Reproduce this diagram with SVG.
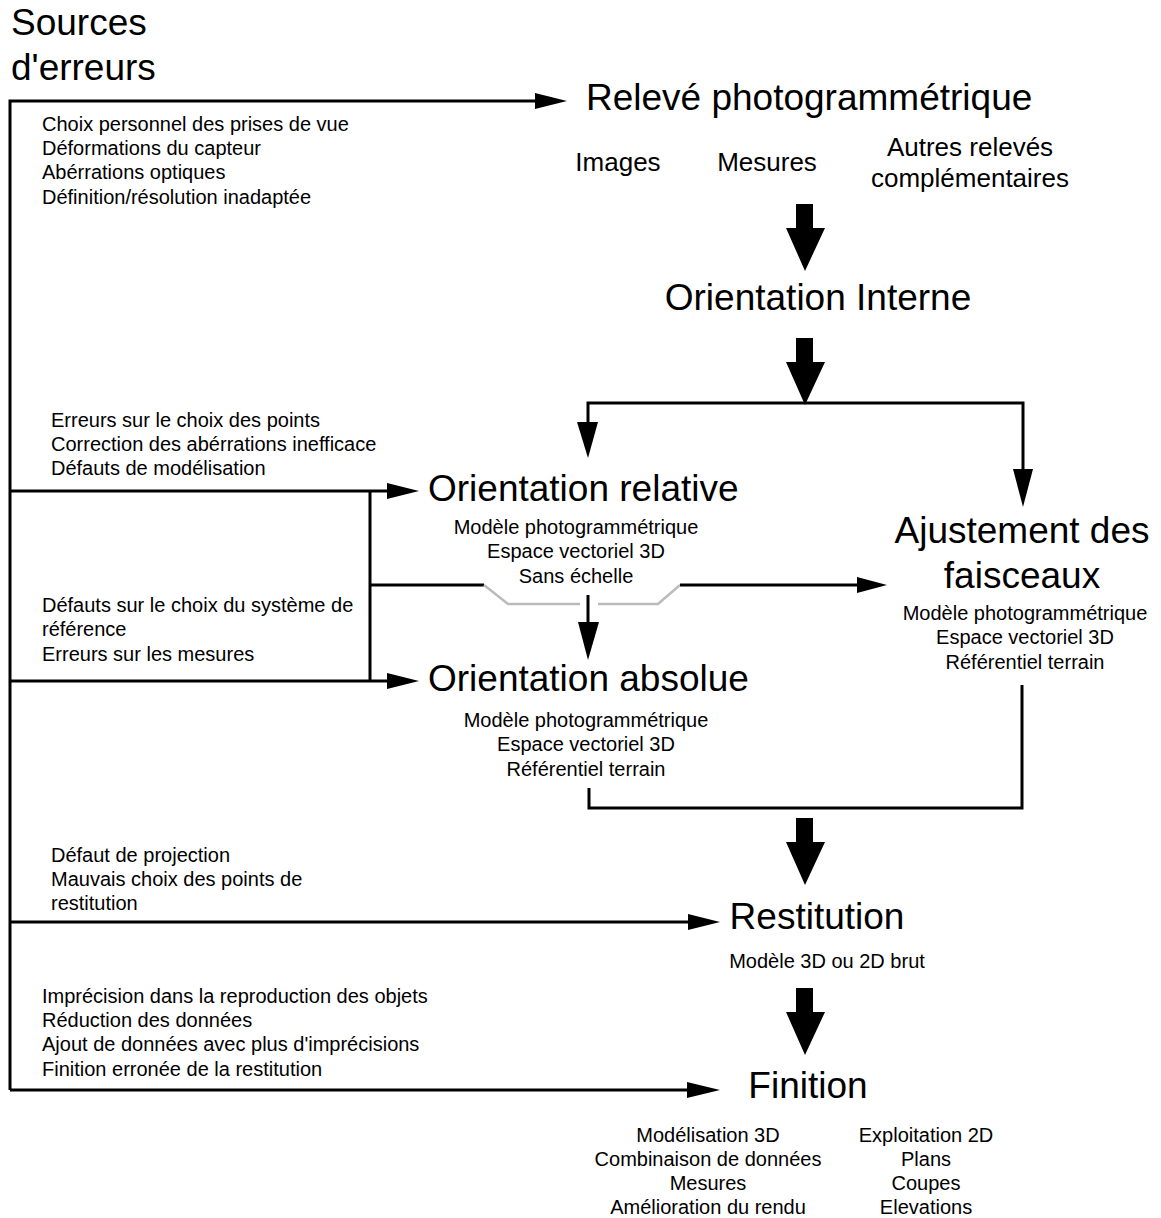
<svg xmlns="http://www.w3.org/2000/svg" width="1161" height="1218" viewBox="0 0 1161 1218">
<style>
text{font-family:"Liberation Sans",Arial,sans-serif;fill:#000}
.big{font-size:37px}
.med{font-size:26px}
.sm{font-size:20px}
.c{text-anchor:middle}
.ln{fill:none;stroke:#000;stroke-width:3}
.gr{fill:none;stroke:#bbb;stroke-width:2.5}
.ah{fill:#000}
</style>
<rect width="1161" height="1218" fill="#fff"/>
<g id="connectors">
<polyline class="ln" points="10,1090 10,101 537,101"/>
<polygon class="ah" points="567,101 535,93 535,109"/>
<polyline class="ln" points="10,491 388,491"/>
<polygon class="ah" points="419,491 387,483 387,499"/>
<polyline class="ln" points="370,491 370,681"/>
<polyline class="ln" points="10,681 388,681"/>
<polygon class="ah" points="419,681 387,673 387,689"/>
<polyline class="ln" points="370,585 484,585"/>
<polyline class="gr" points="484,585 508,604 580,604"/>
<polyline class="gr" points="598,604 658,604 680,585"/>
<polyline class="ln" points="680,585 859,585"/>
<polygon class="ah" points="887,585 857,577 857,593"/>
<polyline class="ln" points="588,595 588,624"/>
<polygon class="ah" points="588,660 578,622 599,622"/>
<polyline class="ln" points="588,424 588,403 1023,403 1023,470"/>
<polygon class="ah" points="588,458 577,422 598,422"/>
<polygon class="ah" points="1023,507 1013,469 1033,469"/>
<polyline class="ln" points="10,922 690,922"/>
<polygon class="ah" points="720,922 688,914 688,930"/>
<polyline class="ln" points="10,1090 690,1090"/>
<polygon class="ah" points="720,1090 687,1082 687,1098"/>
<polyline class="ln" points="589,788 589,808 1022,808 1022,685"/>
<polygon id="bigarrow" class="ah" points="796,204 813,204 813,228 825,228 805,271 786,228 796,228"/>
<use href="#bigarrow" y="134"/>
<use href="#bigarrow" y="614"/>
<use href="#bigarrow" y="784"/>
</g>
<g id="sources"><text class="big" x="11" y="35">Sources</text><text class="big" x="11" y="80">d'erreurs</text></g>
<g id="err1"><text class="sm" x="42" y="131">Choix personnel des prises de vue</text><text class="sm" x="42" y="155">Déformations du capteur</text><text class="sm" x="42" y="179">Abérrations optiques</text><text class="sm" x="42" y="204">Définition/résolution inadaptée</text></g>
<g id="err2"><text class="sm" x="51" y="427">Erreurs sur le choix des points</text><text class="sm" x="51" y="451">Correction des abérrations inefficace</text><text class="sm" x="51" y="475">Défauts de modélisation</text></g>
<g id="err3"><text class="sm" x="42" y="612">Défauts sur le choix du système de</text><text class="sm" x="42" y="636">référence</text><text class="sm" x="42" y="661">Erreurs sur les mesures</text></g>
<g id="err4"><text class="sm" x="51" y="862">Défaut de projection</text><text class="sm" x="51" y="886">Mauvais choix des points de</text><text class="sm" x="51" y="910">restitution</text></g>
<g id="err5"><text class="sm" x="42" y="1003">Imprécision dans la reproduction des objets</text><text class="sm" x="42" y="1027">Réduction des données</text><text class="sm" x="42" y="1051">Ajout de données avec plus d'imprécisions</text><text class="sm" x="42" y="1076">Finition erronée de la restitution</text></g>
<g id="releve"><text class="big" x="586" y="110">Relevé photogrammétrique</text>
<text class="med c" x="618" y="171">Images</text><text class="med c" x="767" y="171">Mesures</text>
<text class="med c" x="970" y="156">Autres relevés</text><text class="med c" x="970" y="187">complémentaires</text></g>
<g id="interne"><text class="big c" x="818" y="310">Orientation Interne</text></g>
<g id="relative"><text class="big" x="428" y="501">Orientation relative</text>
<text class="sm c" x="576" y="534">Modèle photogrammétrique</text><text class="sm c" x="576" y="558">Espace vectoriel 3D</text><text class="sm c" x="576" y="583">Sans échelle</text></g>
<g id="absolue"><text class="big" x="428" y="691">Orientation absolue</text>
<text class="sm c" x="586" y="727">Modèle photogrammétrique</text><text class="sm c" x="586" y="751">Espace vectoriel 3D</text><text class="sm c" x="586" y="776">Référentiel terrain</text></g>
<g id="ajustement"><text class="big c" x="1022" y="543">Ajustement des</text><text class="big c" x="1022" y="588">faisceaux</text>
<text class="sm c" x="1025" y="620">Modèle photogrammétrique</text><text class="sm c" x="1025" y="644">Espace vectoriel 3D</text><text class="sm c" x="1025" y="669">Référentiel terrain</text></g>
<g id="restitution"><text class="big c" x="817" y="929">Restitution</text><text class="sm c" x="827" y="968">Modèle 3D ou 2D brut</text></g>
<g id="finition"><text class="big c" x="808" y="1098">Finition</text>
<text class="sm c" x="708" y="1142">Modélisation 3D</text><text class="sm c" x="708" y="1166">Combinaison de données</text><text class="sm c" x="708" y="1190">Mesures</text><text class="sm c" x="708" y="1214">Amélioration du rendu</text>
<text class="sm c" x="926" y="1142">Exploitation 2D</text><text class="sm c" x="926" y="1166">Plans</text><text class="sm c" x="926" y="1190">Coupes</text><text class="sm c" x="926" y="1214">Elevations</text></g>
</svg>
